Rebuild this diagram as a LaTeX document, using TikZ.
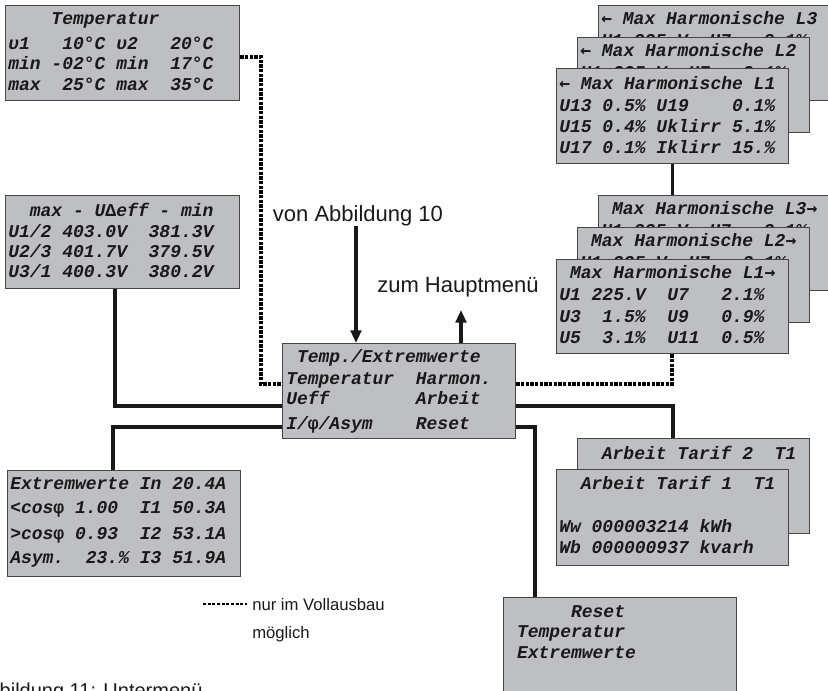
\documentclass[tikz,border=0pt]{standalone}
\usepackage{fontspec}
\setmainfont{Liberation Sans}
\newfontfamily\lcdfont{Liberation Mono}
\newfontfamily\arrfont{DejaVu Sans Mono}
\usetikzlibrary{arrows.meta}
\definecolor{lcdfill}{RGB}{190,191,195}
\definecolor{lcdborder}{RGB}{70,70,70}
\definecolor{inkc}{RGB}{25,25,25}
\tikzset{
  lcd/.style={draw=lcdborder, line width=1.1pt, fill=lcdfill},
  lcdtxt/.style={anchor=base west, inner sep=0pt, font=\lcdfont\bfseries\itshape\fontsize{13.5}{16}\selectfont, text=inkc},
  conn/.style={line width=2.3pt, draw=inkc},
  dotconn/.style={line width=2.5pt, draw=black, dash pattern=on 2.3pt off 1.2pt},
  arr/.style={conn, -{Triangle[length=9.5pt,width=8pt]}},
  biglabel/.style={inner sep=0pt, anchor=base, font=\fontsize{16.5}{20}\selectfont, text=inkc},
  legendtxt/.style={inner sep=0pt, anchor=base west, font=\fontsize{12.5}{14}\selectfont, text=inkc},
  captiontxt/.style={inner sep=0pt, anchor=base west, font=\fontsize{15}{18}\selectfont, text=inkc},
}
\newcommand\lcdbox[5]{\node[lcd, anchor=north west, inner sep=0pt,
  minimum width={(#4-#2)*0.75pt}, minimum height={(#5-#3)*0.75pt}] (#1) at (#2,#3) {};}
\newcommand\lcdline[4]{\node[lcdtxt] (#1) at (#2,#3+6) {#4};}
\newcommand\phisym{{\upshape φ}}
\newcommand\larr{{\arrfont\bfseries\upshape ←}}
\newcommand\rarr{{\arrfont\bfseries\upshape →}}
\begin{document}
\begin{tikzpicture}[x=0.75pt,y=-0.75pt]
\useasboundingbox (0,0) rectangle (828,690);
\begin{scope}
\clip (0,0) rectangle (828,690);

% Temperatur
\lcdbox{temp}{5}{5}{239}{100}
\lcdline{temp1}{8}{18}{~~~~Temperatur}
\lcdline{temp2}{8}{43}{υ1~~~10°C~υ2~~~20°C}
\lcdline{temp3}{8}{63}{min~-02°C~min~~17°C}
\lcdline{temp4}{8}{84}{max~~25°C~max~~35°C}

% Ueff
\lcdbox{umax}{5}{195}{239}{288}
\lcdline{umax1}{8}{210}{~~max~-~U{\upshape Δ}eff~-~min}
\lcdline{umax2}{8}{231}{U1/2~403.0V~~381.3V}
\lcdline{umax3}{8}{251}{U2/3~401.7V~~379.5V}
\lcdline{umax4}{8}{271}{U3/1~400.3V~~380.2V}

% Extremwerte
\lcdbox{extrem}{7}{470}{240}{576}
\lcdline{ext1}{10}{483}{Extremwerte~In~20.4A}
\lcdline{ext2}{10}{507}{<cos\phisym~1.00~~I1~50.3A}
\lcdline{ext3}{10}{533}{>cos\phisym~0.93~~I2~53.1A}
\lcdline{ext4}{10}{557}{Asym.~~23.\%~I3~51.9A}

% Main menu
\lcdbox{main}{282}{343}{515}{438}
\lcdline{main1}{286}{356}{~Temp./Extremwerte}
\lcdline{main2}{286}{378}{Temperatur~~Harmon.}
\lcdline{main3}{286}{398}{Ueff~~~~~~~~Arbeit}
\lcdline{main4}{286}{423}{I/\phisym/Asym~~~~Reset}

% Upper harmonics group
\lcdbox{hu3}{598}{5}{832}{100}
\lcdline{hu3a}{601}{18}{\larr~Max~Harmonische~L3}
\lcdline{hu3b}{601}{40}{U1~225.V~~U7~~~2.1\%}
\lcdbox{hu2}{577}{37}{809}{132}
\lcdline{hu2a}{580}{50}{\larr~Max~Harmonische~L2}
\lcdline{hu2b}{580}{72}{U1~225.V~~U7~~~2.1\%}
\lcdbox{hu1}{556}{68}{788}{163}
\lcdline{hu1a}{559}{83}{\larr~Max~Harmonische~L1}
\lcdline{hu1b}{559}{105}{U13~0.5\%~U19~~~~0.1\%}
\lcdline{hu1c}{559}{126}{U15~0.4\%~Uklirr~5.1\%}
\lcdline{hu1d}{559}{147}{U17~0.1\%~Iklirr~15.\%}

% Lower harmonics group
\lcdbox{hl3}{598}{195}{832}{290}
\lcdline{hl3a}{601}{208}{~Max~Harmonische~L3\rarr}
\lcdline{hl3b}{601}{230}{U1~225.V~~U7~~~2.1\%}
\lcdbox{hl2}{577}{227}{809}{322}
\lcdline{hl2a}{580}{240}{~Max~Harmonische~L2\rarr}
\lcdline{hl2b}{580}{262}{U1~225.V~~U7~~~2.1\%}
\lcdbox{hl1}{556}{259}{788}{353}
\lcdline{hl1a}{559}{272}{~Max~Harmonische~L1\rarr}
\lcdline{hl1b}{559}{294}{U1~225.V~~U7~~~2.1\%}
\lcdline{hl1c}{559}{316}{U3~~1.5\%~~U9~~~0.9\%}
\lcdline{hl1d}{559}{337}{U5~~3.1\%~~U11~~0.5\%}

% Arbeit
\lcdbox{at2}{577}{438}{809}{533}
\lcdline{at2a}{580}{453}{~~Arbeit~Tarif~2~~T1}
\lcdbox{at1}{556}{469}{788}{565}
\lcdline{at1a}{559}{483}{~~Arbeit~Tarif~1~~T1}
\lcdline{at1b}{559}{526}{Ww~000003214~kWh}
\lcdline{at1c}{559}{547}{Wb~000000937~kvarh}

% Reset
\lcdbox{reset}{503}{597}{736}{720}
\lcdline{res1}{506}{611}{~~~~~~Reset}
\lcdline{res2}{506}{631}{~Temperatur}
\lcdline{res3}{506}{652}{~Extremwerte}

% Connectors
\coordinate (kT) at (0,57);
\coordinate (kL) at (261,384);
\draw[dotconn] (temp.east |- kT) -| (kL) -- (main.west |- kL);
\coordinate (kU) at (115,406);
\draw[conn] (umax.south -| kU) -- (kU) -- (main.west |- kU);
\coordinate (kE) at (113,427);
\draw[conn] (extrem.north -| kE) -- (kE) -- (main.west |- kE);
\coordinate (kH) at (672,384);
\draw[dotconn] (main.east |- kH) -- (kH) -- (hl1.south -| kH);
\coordinate (kA) at (673,406);
\draw[conn] (main.east |- kA) -- (kA) -- (at2.north -| kA);
\coordinate (kR) at (535,427);
\draw[conn] (main.east |- kR) -- (kR) -- (reset.north -| kR);
\draw[conn] (hu1.south) -- (hu1.south |- hl3.north);

% Arrows and labels
\node[biglabel] (vonA) at (358,221) {von Abbildung 10};
\coordinate (kIn) at (356,0);
\draw[arr] (vonA.south -| kIn) -- (main.north -| kIn);
\node[biglabel] (zumH) at (458,292) {zum Hauptmenü};
\coordinate (kOut) at (461,310);
\draw[arr] (main.north -| kOut) -- (kOut);

% Legend
\coordinate (legA) at (203,604);
\coordinate (legB) at (247,604);
\draw[dotconn, line width=2pt] (legA) -- (legB);
\node[legendtxt] (leg1) at (252,610) {nur im Vollausbau};
\node[legendtxt] (leg2) at (252,638) {möglich};

% Caption
\node[captiontxt] (cap) at (-25,697) {Abbildung 11: Untermenü};
\end{scope}
\end{tikzpicture}
\end{document}
